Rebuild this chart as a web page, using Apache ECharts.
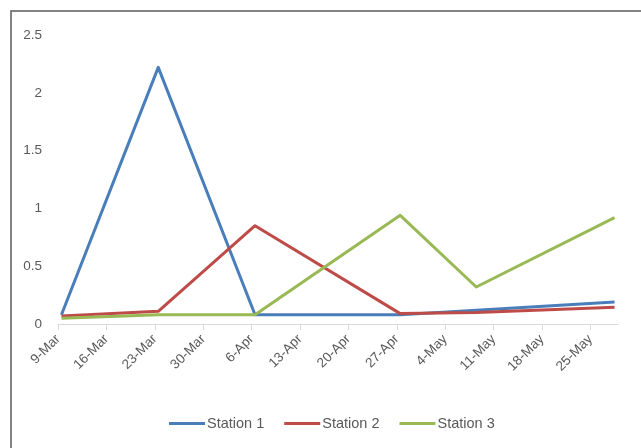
<!DOCTYPE html>
<html>
<head>
<meta charset="utf-8">
<style>
  html, body { margin: 0; padding: 0; background: #ffffff; }
  #chart { width: 641px; height: 448px; }
</style>
<script src="https://cdn.jsdelivr.net/npm/echarts@6/dist/echarts.min.js"></script>
</head>
<body>
<div id="chart"></div>
<script>
// Sampling dates and readings for each station
const sampleDates = ['2015-03-09', '2015-03-23', '2015-04-06', '2015-04-27', '2015-05-08', '2015-05-28'];
const station1 = [0.08, 2.22, 0.08, 0.08, 0.12, 0.19];
const station2 = [0.07, 0.11, 0.85, 0.09, 0.10, 0.145];
const station3 = [0.05, 0.08, 0.08, 0.94, 0.32, 0.92];
const seriesNames = ['Station 1', 'Station 2', 'Station 3'];
const seriesColors = ['#4a7ebb', '#be4b48', '#98b954'];
const yTicks = [0, 0.5, 1, 1.5, 2, 2.5];

const monthNames = ['Jan', 'Feb', 'Mar', 'Apr', 'May', 'Jun', 'Jul', 'Aug', 'Sep', 'Oct', 'Nov', 'Dec'];
const DAY = 86400000;
function parseDay(s) {
  const p = s.split('-').map(Number);
  return Date.UTC(p[0], p[1] - 1, p[2]);
}
const startDay = parseDay(sampleDates[0]);
const endDay = parseDay(sampleDates[sampleDates.length - 1]);
// day slots: each date occupies one day-wide slot, points sit at the slot centre
const dayIndex = sampleDates.map(d => (parseDay(d) - startDay) / DAY + 0.5);
const axisMax = (endDay - startDay) / DAY + 1;

function dayLabel(v) {
  const d = new Date(startDay + v * DAY);
  return d.getUTCDate() + '-' + monthNames[d.getUTCMonth()];
}

const font = '"Liberation Sans", Arial, sans-serif';
const textColor = '#595959';

const chart = echarts.init(document.getElementById('chart'), null, { renderer: 'canvas' });
const values = [station1, station2, station3];

chart.setOption({
  animation: false,
  backgroundColor: '#ffffff',
  graphic: [{
    type: 'rect',
    shape: { x: 11, y: 11, width: 660, height: 460 },
    style: { fill: 'none', stroke: '#595959', lineWidth: 1.5 },
    silent: true
  }],
  grid: { left: 58, right: 23, top: 35, bottom: 124 },
  legend: {
    bottom: 12,
    left: 164,
    icon: 'rect',
    itemWidth: 36,
    itemHeight: 3,
    itemGap: 20,
    textStyle: { color: textColor, fontFamily: font, fontSize: 14.5, padding: [0, 0, 0, -3] },
    data: seriesNames
  },
  xAxis: {
    type: 'value',
    min: 0,
    max: axisMax,
    interval: 7,
    axisLine: { show: true, lineStyle: { color: '#d9d9d9', width: 1 } },
    axisTick: { show: true, length: 6, lineStyle: { color: '#d9d9d9' } },
    splitLine: { show: false },
    axisLabel: {
      rotate: 45,
      color: textColor,
      fontFamily: font,
      fontSize: 13.5,
      margin: 13,
      showMaxLabel: false,
      formatter: v => dayLabel(v)
    }
  },
  yAxis: {
    type: 'value',
    min: yTicks[0],
    max: yTicks[yTicks.length - 1],
    interval: 0.5,
    axisLine: { show: false },
    axisTick: { show: false },
    splitLine: { show: false },
    axisLabel: {
      color: textColor,
      fontFamily: font,
      fontSize: 13.5,
      margin: 16,
      formatter: v => String(v)
    }
  },
  series: seriesNames.map((name, i) => ({
    name: name,
    type: 'line',
    data: dayIndex.map((x, k) => [x, values[i][k]]),
    showSymbol: false,
    symbol: 'none',
    lineStyle: { width: 3, color: seriesColors[i], join: 'round' },
    itemStyle: { color: seriesColors[i] }
  }))
});
</script>
</body>
</html>
